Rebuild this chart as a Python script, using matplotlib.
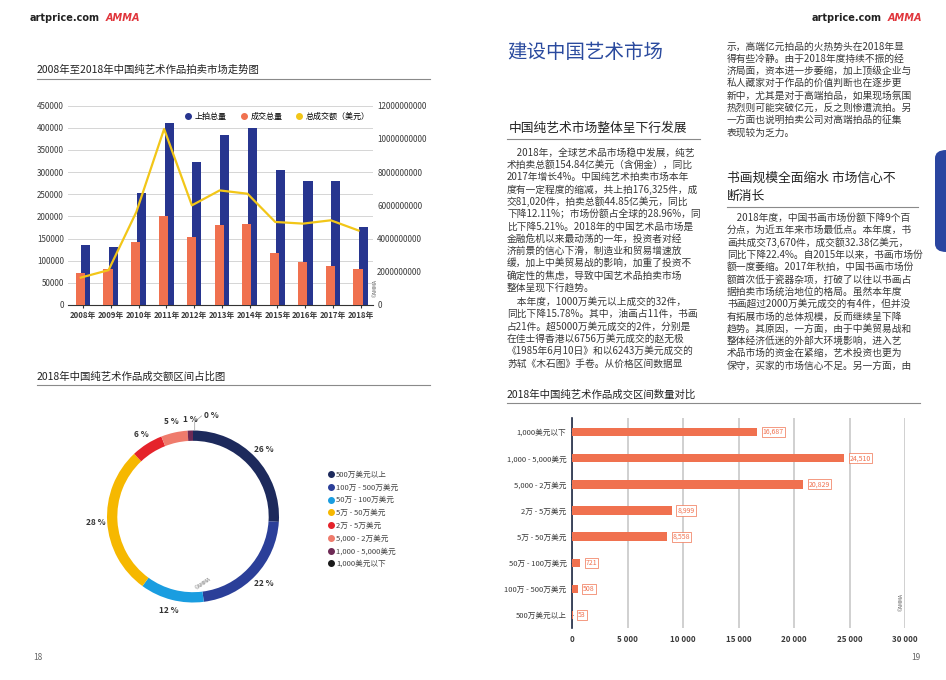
import matplotlib
matplotlib.use("Agg")
import matplotlib.pyplot as plt
import numpy as np
from matplotlib.lines import Line2D
from matplotlib.patches import FancyBboxPatch

plt.rcParams['font.family'] = ['Noto Sans CJK SC', 'DejaVu Sans']

# ---- data ----
years = ['2008年', '2009年', '2010年', '2011年', '2012年', '2013年',
         '2014年', '2015年', '2016年', '2017年', '2018年']
lots_offered = [135000, 131000, 253000, 410000, 322000, 384000,
                399000, 305000, 279000, 281000, 176325]
lots_sold = [72000, 82000, 142000, 201000, 154000, 180000,
             182000, 118000, 98000, 89000, 81020]
turnover_usd = [1.65e9, 2.1e9, 5.6e9, 10.6e9, 6.0e9, 6.9e9,
                6.7e9, 5.0e9, 4.9e9, 5.1e9, 4.485e9]

price_ranges = ['500万美元以上', '100万 - 500万美元', '50万 - 100万美元',
                '5万 - 50万美元', '2万 - 5万美元', '5,000 - 2万美元',
                '1,000 - 5,000美元', '1,000美元以下']
share_pct = [26, 22, 12, 28, 6, 5, 1, 0]
share_colors = ['#1d2a5c', '#2b3f99', '#1a9de0', '#f6b800',
                '#e5232b', '#ef7b6c', '#6e2a55', '#1a1a1a']

count_ranges = ['1,000美元以下', '1,000 - 5,000美元', '5,000 - 2万美元',
                '2万 - 5万美元', '5万 - 50万美元', '50万 - 100万美元',
                '100万 - 500万美元', '500万美元以上']
count_lots = [16687, 24510, 20829, 8999, 8558, 721, 508, 53]

BLUE = '#27358f'
ORANGE = '#f0714f'
YELLOW = '#f2c618'
TXT = '#3a3a3a'

col1 = [
    '　2018年，全球艺术品市场稳中发展，纯艺',
    '术拍卖总额154.84亿美元（含佣金），同比',
    '2017年增长4%。中国纯艺术拍卖市场本年',
    '度有一定程度的缩减，共上拍176,325件，成',
    '交81,020件，拍卖总额44.85亿美元，同比',
    '下降12.11%；市场份额占全球的28.96%，同',
    '比下降5.21%。2018年的中国艺术品市场是',
    '金融危机以来最动荡的一年，投资者对经',
    '济前景的信心下滑，制造业和贸易增速放',
    '缓，加上中美贸易战的影响，加重了投资不',
    '确定性的焦虑，导致中国艺术品拍卖市场',
    '整体呈现下行趋势。',
]
col1b = [
    '　本年度，1000万美元以上成交的32件，',
    '同比下降15.78%。其中，油画占11件，书画',
    '占21件。超5000万美元成交的2件，分别是',
    '在佳士得香港以6756万美元成交的赵无极',
    '《1985年6月10日》和以6243万美元成交的',
    '苏轼《木石图》手卷。从价格区间数据显',
]
col2 = [
    '示，高端亿元拍品的火热势头在2018年显',
    '得有些冷静。由于2018年度持续不振的经',
    '济局面，资本进一步萎缩，加上顶级企业与',
    '私人藏家对于作品的价值判断也在逐步更',
    '新中，尤其是对于高端拍品，如果现场氛围',
    '热烈则可能突破亿元，反之则惨遭流拍。另',
    '一方面也说明拍卖公司对高端拍品的征集',
    '表现较为乏力。',
]
col2b = [
    '　2018年度，中国书画市场份额下降9个百',
    '分点，为近五年来市场最低点。本年度，书',
    '画共成交73,670件，成交额32.38亿美元，',
    '同比下降22.4%。自2015年以来，书画市场份',
    '额一度萎缩。2017年秋拍，中国书画市场份',
    '额首次低于瓷器杂项，打破了以往以书画占',
    '据拍卖市场统治地位的格局。虽然本年度',
    '书画超过2000万美元成交的有4件，但并没',
    '有拓展市场的总体规模，反而继续呈下降',
    '趋势。其原因，一方面，由于中美贸易战和',
    '整体经济低迷的外部大环境影响，进入艺',
    '术品市场的资金在紧缩，艺术投资也更为',
    '保守，买家的市场信心不足。另一方面，由',
]

W, H = 946, 680
fig = plt.figure(figsize=(W / 100, H / 100), dpi=100)


def fx(x):
    return x / W


def fy(y):
    return 1 - y / H


def axrect(l, t, r, b):
    return [fx(l), fy(b), (r - l) / W, (b - t) / H]


def hline(x0, x1, y, color='#8a8a8a', lw=0.8):
    fig.add_artist(Line2D([fx(x0), fx(x1)], [fy(y), fy(y)], color=color, lw=lw))


def para(lines, x, y0, step=12.3, size=7.0):
    for i, s in enumerate(lines):
        fig.text(fx(x), fy(y0 + i * step), s, fontsize=size, color='#383838',
                 va='center', ha='left')


# ---- header logos ----
for x in (30, 812):
    fig.text(fx(x), fy(18), 'artprice.com', fontsize=7, fontweight='bold',
             color='#222222', va='center', family=['DejaVu Sans'])
for x in (106, 888):
    fig.text(fx(x), fy(18), 'AMMA', fontsize=7, fontweight='bold', style='italic',
             color='#e0353b', va='center', family=['DejaVu Sans'])

# ---- chart 1: trend ----
fig.text(fx(37), fy(70), '2008年至2018年中国纯艺术作品拍卖市场走势图',
         fontsize=7.5, color='#222222', va='center')
hline(37, 430, 79)

ax1 = fig.add_axes(axrect(68, 105.7, 373, 305))
x = np.arange(len(years))
ax1.bar(x + 0.1, lots_offered, width=0.33, color=BLUE, zorder=2, label='上拍总量')
ax1.bar(x - 0.1, lots_sold, width=0.33, color=ORANGE, zorder=3, label='成交总量')
ax1.set_ylim(0, 450000)
ax1.set_yticks(np.arange(0, 450001, 50000))
ax1.yaxis.set_major_formatter(matplotlib.ticker.FuncFormatter(lambda v, p: f'{int(v)}'))
ax1.set_xlim(-0.54, 10.44)
ax1.set_xticks(x)
ax1.set_xticklabels(years, fontweight='bold')
ax1.grid(axis='y', color='#d5d5d5', lw=0.7, zorder=0)
ax1.tick_params(axis='y', length=0, labelsize=5.8, labelcolor=TXT, pad=3)
ax1.tick_params(axis='x', length=2, labelsize=5.6, labelcolor=TXT, pad=2, color='#333333')
for s in ('top', 'right', 'left'):
    ax1.spines[s].set_visible(False)
ax1.spines['bottom'].set_color('#333333')
ax1.spines['bottom'].set_linewidth(0.8)

ax1b = ax1.twinx()
ax1b.plot(x - 0.08, turnover_usd, color=YELLOW, lw=1.6, zorder=4)
ax1b.set_ylim(0, 12e9)
ax1b.set_yticks(np.arange(0, 12e9 + 1, 2e9))
ax1b.yaxis.set_major_formatter(matplotlib.ticker.FuncFormatter(lambda v, p: f'{int(v)}'))
ax1b.tick_params(axis='y', length=0, labelsize=5.8, labelcolor=TXT, pad=3)
for s in ax1b.spines.values():
    s.set_visible(False)

handles = [Line2D([], [], ls='', marker='o', ms=4, color=c) for c in (BLUE, ORANGE, YELLOW)]
fig.legend(handles, ['上拍总量', '成交总量', '总成交额（美元）'], ncol=3, frameon=False,
           fontsize=5.8, loc='center', bbox_to_anchor=(fx(277), fy(116)),
           handletextpad=0.3, columnspacing=1.6, handlelength=1.0)
fig.text(fx(375), fy(288), '©AMMA', fontsize=3.5, rotation=90, color='#555555',
         va='center', ha='center')

# ---- chart 2: donut ----
fig.text(fx(37), fy(377), '2018年中国纯艺术作品成交额区间占比图',
         fontsize=7.5, color='#222222', va='center')
hline(37, 430, 385)

ax2 = fig.add_axes(axrect(107, 430.5, 279, 602.5))
wedges, _ = ax2.pie(share_pct, colors=share_colors, startangle=90, counterclock=False,
                    wedgeprops=dict(width=0.12, linewidth=0))
ax2.set_xlim(-1, 1)
ax2.set_ylim(-1, 1)
ax2.set_aspect('equal')
ax2.axis('off')
for w, p in zip(wedges, share_pct):
    if p == 0:
        continue
    ang = np.deg2rad((w.theta1 + w.theta2) / 2)
    r = 1.13
    ax2.text(r * np.cos(ang), r * np.sin(ang), f'{p} %', ha='center', va='center',
             fontsize=6, fontweight='bold', color='#333333', clip_on=False)
ax2.plot([0.02, 0.02, 0.1], [1.0, 1.1, 1.17], color='#999999', lw=0.5, clip_on=False)
ax2.text(0.13, 1.17, f'{share_pct[-1]} %', ha='left', va='center', fontsize=6,
         fontweight='bold', color='#333333', clip_on=False)
ax2.text(0.12, -0.78, '©AMMA', fontsize=3.5, rotation=35, color='#666666',
         ha='center', va='center')

handles2 = [Line2D([], [], ls='', marker='o', ms=4, color=c) for c in share_colors]
fig.legend(handles2, price_ranges, frameon=False, fontsize=5.5, loc='upper left',
           bbox_to_anchor=(fx(323), fy(467)), handletextpad=0.2, handlelength=1.0,
           labelspacing=0.62, borderpad=0, labelcolor='#444444')

# ---- right page texts ----
fig.text(fx(507), fy(52), '建设中国艺术市场', fontsize=14, color='#2a4a9e',
         va='center', fontweight='medium')
fig.text(fx(509), fy(128), '中国纯艺术市场整体呈下行发展', fontsize=9.2,
         color='#222222', va='center')
hline(507, 700, 139)
para(col1, 507, 152.5)
para(col1b, 507, 302)
para(col2, 727, 46.5)
fig.text(fx(727), fy(178), '书画规模全面缩水 市场信心不', fontsize=9.2,
         color='#222222', va='center')
fig.text(fx(727), fy(196), '断消长', fontsize=9.2, color='#222222', va='center')
hline(727, 918, 207)
para(col2b, 727, 218)

fig.add_artist(FancyBboxPatch((fx(935), fy(252)), 0.05, (252 - 150) / H,
                              boxstyle='round,pad=0,rounding_size=0.012',
                              transform=fig.transFigure, fc='#2a45a0', ec='none'))

# ---- chart 3: horizontal bars ----
fig.text(fx(507), fy(395), '2018年中国纯艺术作品成交区间数量对比',
         fontsize=7.5, color='#222222', va='center')
hline(507, 920, 403)

ax3 = fig.add_axes(axrect(572, 418, 905, 628))
y = np.arange(len(count_ranges))
bars = ax3.barh(y, count_lots, height=0.32, color=ORANGE, zorder=3)
ax3.set_ylim(7.5, -0.54)
ax3.set_xlim(0, 30000)
ax3.set_yticks(y)
ax3.set_yticklabels(count_ranges)
ax3.set_xticks(np.arange(0, 30001, 5000))
ax3.set_xticklabels([f'{v:,}'.replace(',', ' ') for v in range(0, 30001, 5000)],
                    fontweight='bold')
ax3.grid(axis='x', color='#d0d0d0', lw=1.4, zorder=0)
ax3.tick_params(axis='y', labelsize=5.5, labelcolor=TXT, length=2, width=0.6,
                direction='inout', color='#1f2a44', pad=3)
ax3.tick_params(axis='x', labelsize=5.8, labelcolor=TXT, length=0, pad=5)
for s in ('top', 'right', 'bottom'):
    ax3.spines[s].set_visible(False)
ax3.spines['left'].set_color('#1f2a44')
ax3.spines['left'].set_linewidth(1.2)
for b, v in zip(bars, count_lots):
    ax3.annotate(f'{v:,}', (b.get_width(), b.get_y() + b.get_height() / 2),
                 xytext=(4, 0), textcoords='offset points', va='center', ha='left',
                 fontsize=5, color=ORANGE,
                 bbox=dict(boxstyle='square,pad=0.15', fc='white', ec=ORANGE, lw=0.5))
fig.text(fx(901), fy(602), '©AMMA', fontsize=3.5, rotation=90, color='#555555',
         va='center', ha='center')

# ---- page numbers ----
fig.text(fx(33), fy(658), '18', fontsize=6, style='italic', color='#666666', va='center')
fig.text(fx(911), fy(658), '19', fontsize=6, style='italic', color='#666666', va='center')

fig.savefig('out.png', dpi=100, facecolor='white')
